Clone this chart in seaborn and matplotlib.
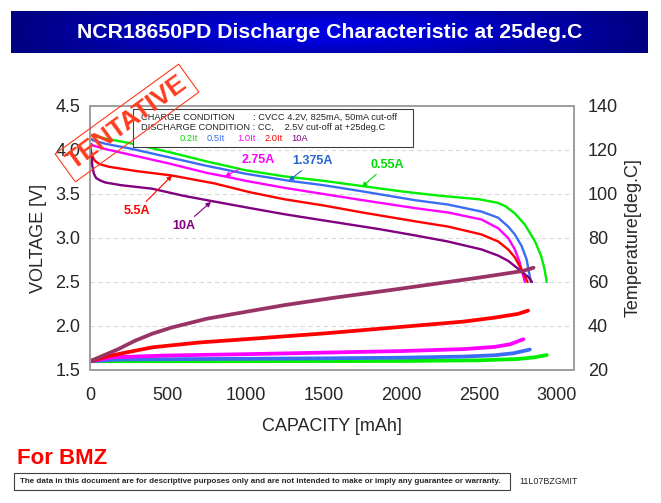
import numpy as np
import matplotlib
matplotlib.use('Agg')
import matplotlib.pyplot as plt
from matplotlib import font_manager
from matplotlib.colors import LinearSegmentedColormap
from matplotlib.patches import Rectangle
import seaborn as sns

# discharge curves (left axis, V) read from the sheet
cap_055 = [0, 20, 100, 250, 500, 750, 1000, 1250, 1500, 1750, 2000, 2250, 2500, 2620, 2670, 2730, 2795, 2860, 2900, 2920, 2935]
volt_055 = [4.18, 4.16, 4.13, 4.08, 3.98, 3.87, 3.77, 3.70, 3.65, 3.59, 3.53, 3.48, 3.44, 3.40, 3.36, 3.28, 3.15, 2.96, 2.79, 2.65, 2.50]

cap_1375 = [0, 20, 100, 250, 500, 750, 1000, 1280, 1500, 1750, 2087, 2300, 2516, 2623, 2687, 2730, 2773, 2805, 2833]
volt_1375 = [4.13, 4.11, 4.07, 4.02, 3.92, 3.82, 3.73, 3.65, 3.60, 3.53, 3.43, 3.38, 3.30, 3.23, 3.13, 3.04, 2.91, 2.76, 2.50]

cap_275 = [0, 20, 100, 250, 500, 750, 867, 1000, 1250, 1500, 1750, 2087, 2300, 2516, 2623, 2687, 2730, 2762, 2794]
volt_275 = [4.08, 4.05, 4.01, 3.95, 3.85, 3.74, 3.70, 3.65, 3.57, 3.50, 3.43, 3.34, 3.29, 3.21, 3.11, 3.00, 2.87, 2.72, 2.50]

cap_55 = [0, 10, 30, 60, 120, 300, 527, 800, 1028, 1250, 1500, 1750, 2087, 2300, 2516, 2623, 2687, 2730, 2773, 2812]
volt_55 = [4.02, 3.95, 3.88, 3.84, 3.81, 3.76, 3.71, 3.62, 3.52, 3.44, 3.37, 3.29, 3.19, 3.13, 3.04, 2.96, 2.87, 2.78, 2.64, 2.50]

cap_10 = [0, 8, 15, 25, 40, 70, 100, 200, 400, 600, 781, 1028, 1250, 1500, 1862, 2087, 2300, 2516, 2623, 2687, 2730, 2773, 2820, 2840]
volt_10 = [4.05, 3.95, 3.82, 3.73, 3.68, 3.65, 3.63, 3.60, 3.56, 3.48, 3.42, 3.34, 3.27, 3.20, 3.10, 3.03, 2.96, 2.87, 2.80, 2.74, 2.68, 2.62, 2.55, 2.50]

# cell temperature (right axis, deg.C)
tcap_055 = [0, 1000, 2000, 2500, 2750, 2850, 2935]
temp_055 = [24, 24, 24.1, 24.4, 25, 25.7, 26.8]

tcap_1375 = [0, 200, 1000, 1500, 2000, 2400, 2600, 2720, 2826]
temp_1375 = [24, 24.8, 25.1, 25.3, 25.6, 26.1, 26.7, 27.6, 29.3]

tcap_275 = [0, 150, 500, 1000, 1500, 2000, 2400, 2600, 2700, 2785]
temp_275 = [24, 25.8, 26.6, 27.2, 27.9, 28.6, 29.5, 30.5, 31.7, 34]

tcap_55 = [0, 100, 200, 400, 700, 1000, 1500, 2000, 2400, 2600, 2750, 2815]
temp_55 = [24, 26, 27.5, 30.3, 32.5, 34, 36.6, 39.6, 42, 43.8, 45.5, 47]

tcap_10 = [0, 100, 182, 289, 400, 524, 750, 1038, 1250, 1574, 2000, 2500, 2780, 2850]
temp_10 = [24, 27, 29.5, 33.3, 36.5, 39.3, 43.3, 46.9, 49.5, 52.9, 57, 62, 65, 66.5]

series = [
	('0.55A', cap_055, volt_055, tcap_055, temp_055, '#00ee00', '#00ee00'),
	('1.375A', cap_1375, volt_1375, tcap_1375, temp_1375, '#3a6cf4', '#3a6cf4'),
	('2.75A', cap_275, volt_275, tcap_275, temp_275, '#ff00ff', '#ff00ff'),
	('5.5A', cap_55, volt_55, tcap_55, temp_55, '#ff0000', '#ff0000'),
	('10A', cap_10, volt_10, tcap_10, temp_10, '#800080', '#993366'),
]

x_ticks = [0, 500, 1000, 1500, 2000, 2500, 3000]
v_ticks = [1.5, 2.0, 2.5, 3.0, 3.5, 4.0, 4.5]
t_ticks = [20, 40, 60, 80, 100, 120, 140]

W, H = 661, 503


def fx(px):
	return px / W


def fy(py):
	return 1 - py / H


sns.set_style('white')
names = {f.name for f in font_manager.fontManager.ttflist}
narrow = 'Liberation Sans Narrow' if 'Liberation Sans Narrow' in names else 'Liberation Sans'
plt.rcParams['font.family'] = ['Liberation Sans', 'DejaVu Sans']

fig = plt.figure(figsize=(W / 100, H / 100), dpi=100)
fig.patch.set_facecolor('white')

# title bar with blue gradient
tax = fig.add_axes([fx(11), fy(53), fx(637), 42 / H])
gx = np.linspace(-1, 1, 300)
gy = np.linspace(-1, 1, 40)
grad = (1 - np.abs(gx)[None, :] ** 1.5) * (1 - 0.5 * gy[:, None] ** 2)
cmap = LinearSegmentedColormap.from_list('bar', ['#000080', '#0000e6'])
tax.imshow(grad, aspect='auto', cmap=cmap, extent=(0, 1, 0, 1))
tax.set_axis_off()
tax.text(0.5, 0.5, 'NCR18650PD Discharge Characteristic at 25deg.C',
	ha='center', va='center', color='white', fontsize=15.3, fontweight='bold',
	family=[narrow, 'DejaVu Sans'], transform=tax.transAxes)

ax = fig.add_axes([fx(90), fy(370), fx(574 - 90), (370 - 106) / H])
ax2 = ax.twinx()

for name, c, v, tc, t, col, tcol in series:
	sns.lineplot(x=c, y=v, ax=ax, color=col, lw=1.7, estimator=None, sort=False)
	sns.lineplot(x=tc, y=t, ax=ax2, color=tcol, lw=2.7, estimator=None, sort=False)

ax.set_xlim(0, 3110)
ax.set_ylim(1.5, 4.5)
ax2.set_ylim(20, 140)
ax.set_xticks(x_ticks)
ax.set_yticks(v_ticks)
ax2.set_yticks(t_ticks)
ax.set_yticklabels([f'{v:.1f}' for v in v_ticks])
ax.grid(axis='y', ls=(0, (4, 3)), color='#d9d9d9', lw=0.8)
ax.grid(axis='x', visible=False)
ax2.grid(False)
for a in (ax, ax2):
	for s in a.spines.values():
		s.set_color('#a0a0a0')
		s.set_linewidth(1.3)
ax.tick_params(axis='x', direction='in', length=4, color='#a0a0a0', labelsize=13, pad=12)
ax.tick_params(axis='y', length=0, labelsize=13, pad=7)
ax2.tick_params(axis='y', length=0, labelsize=13, pad=10)
ax.set_xlabel('CAPACITY [mAh]', fontsize=13, labelpad=10)
ax.set_ylabel('VOLTAGE [V]', fontsize=13, labelpad=6)
ax2.set_ylabel('Temperature[deg.C]', fontsize=13, labelpad=5)

# current labels with arrows
notes = [
	('0.55A', (1747, 3.58), (1907, 3.83), '#00dd00'),
	('1.375A', (1278, 3.65), (1432, 3.87), '#2266cc'),
	('2.75A', (867, 3.70), (1079, 3.89), '#ff00ff'),
	('5.5A', (527, 3.71), (302, 3.31), '#ff0000'),
	('10A', (777, 3.41), (604, 3.14), '#800080'),
]
for txt, tip, pos, col in notes:
	ax.annotate(txt, xy=tip, xytext=pos, ha='center', va='center',
		fontsize=9, fontweight='bold', color=col,
		arrowprops=dict(arrowstyle='-|>', color=col, lw=0.8, mutation_scale=7, shrinkA=0, shrinkB=0))

# condition box
fig.patches.append(Rectangle((fx(133), fy(147)), fx(413 - 133), (147 - 109) / H,
	transform=fig.transFigure, facecolor='white', edgecolor='#404040', lw=0.8, zorder=2))
fig.text(fx(141), fy(117), 'CHARGE CONDITION       : CVCC 4.2V, 825mA, 50mA cut-off',
	fontsize=6.7, va='center', zorder=4)
fig.text(fx(141), fy(127.5), 'DISCHARGE CONDITION : CC,    2.5V cut-off at +25deg.C',
	fontsize=6.7, va='center', zorder=4)
for lab, px, col in [('0.2It', 180, '#00dd00'), ('0.5It', 207, '#3a6cf4'),
		('1.0It', 237, '#ff00ff'), ('2.0It', 265, '#ff0000'), ('10A', 291, '#800080')]:
	fig.text(fx(px), fy(138.5), lab, fontsize=6.7, va='center', color=col, zorder=4)

# stamp
fig.text(fx(127), fy(123), 'TENTATIVE', rotation=36, ha='center', va='center',
	fontsize=19, fontweight='bold', color='#ff3b1f', zorder=5, rotation_mode='anchor',
	bbox=dict(boxstyle='square,pad=0.2', facecolor='none', edgecolor='#ff3b1f', lw=0.8))

# footer
fig.text(fx(17), fy(458), 'For BMZ', fontsize=16, fontweight='bold', color='#ff0000', va='center')
fig.patches.append(Rectangle((fx(14), fy(490)), fx(510 - 14), 17 / H,
	transform=fig.transFigure, facecolor='white', edgecolor='#404040', lw=0.8))
fig.text(fx(20), fy(481.5),
	'The data in this document are for descriptive purposes only and are not intended to make or imply any guarantee or warranty.',
	fontsize=5.8, fontweight='bold', va='center', family=[narrow, 'DejaVu Sans'])
fig.text(fx(519), fy(481.5), '11L07BZGMIT', fontsize=6.5, va='center', family=[narrow, 'DejaVu Sans'])

fig.savefig('out.png', dpi=100)
